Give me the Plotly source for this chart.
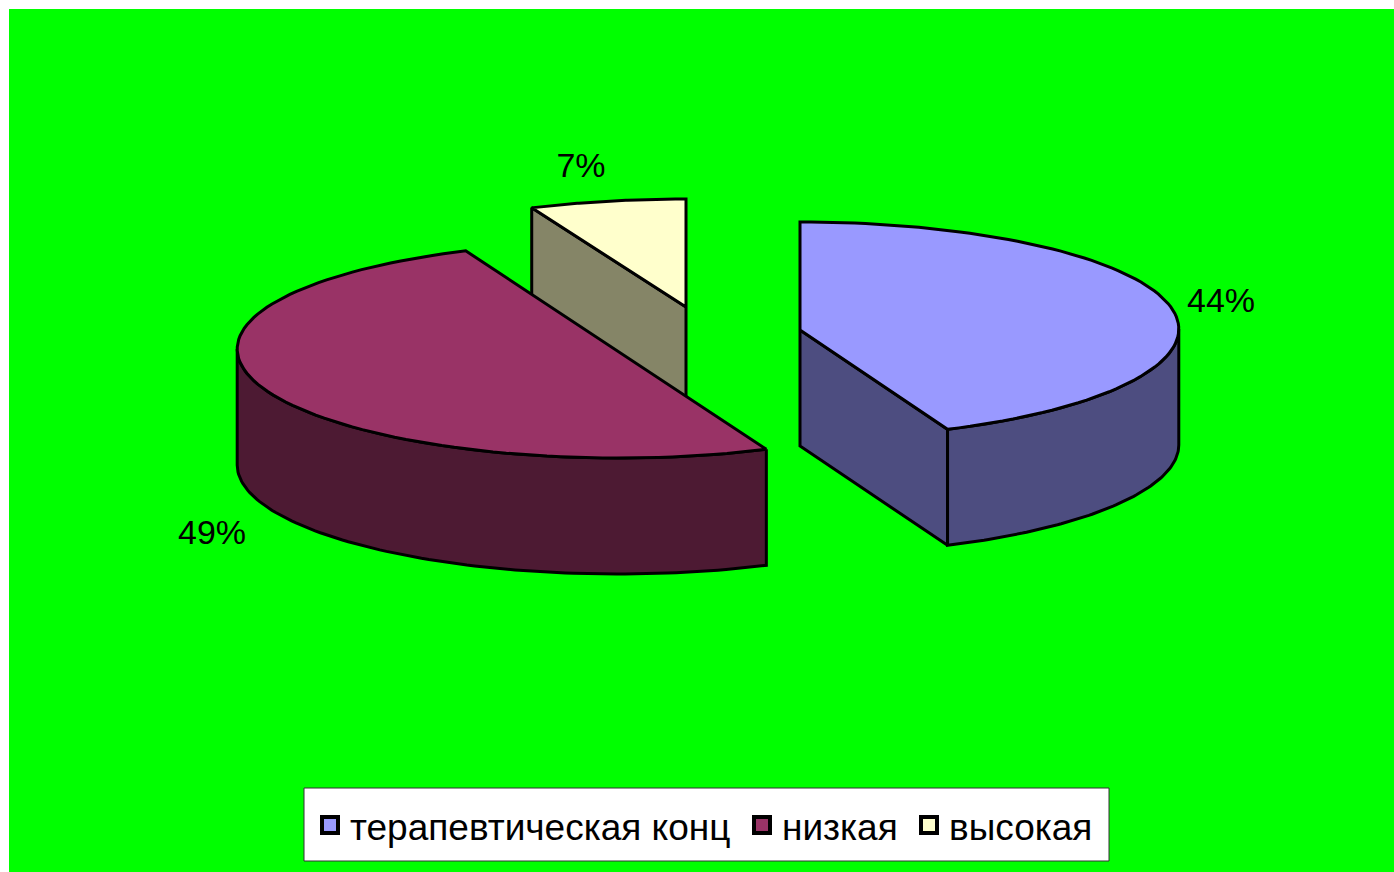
import numpy as np
import plotly.graph_objects as go

categories = ["терапевтическая конц", "низкая", "высокая"]
shares = [44, 49, 7]
top_colors = ["#9999FF", "#993366", "#FFFFCC"]
side_colors = ["#4D4D80", "#4D1A33", "#858567"]

W, H = 1394, 872
FONT = "Liberation Sans, Arial, sans-serif"
INK = "#000000"
DEPTH = 116
PERSPECTIVE = 0.065
SHOULDER = 8
centers = [(800, 330), (618, 350), (686, 307)]
radii = [(378, 108), (380, 108), (385, 108)]
label_pos = [(1221, 303), (212, 535), (581, 168)]
legend_x = [310, 742, 909]

# slice angles (clockwise from 12 o'clock) derived from the values
edges = np.cumsum([0] + shares) / sum(shares) * 360.0
# angle offset at which the rim reaches its widest point
widest = np.degrees(np.arcsin(PERSPECTIVE))


def rim(i, a0, a1, drop=0.0, n=90):
    t = np.radians(np.linspace(a0, a1, n))
    cx, cy = centers[i]
    rx, ry = radii[i]
    # points nearer the viewer spread a little wider; the sides sit slightly back
    x = cx + rx * np.sin(t) * (1 - PERSPECTIVE * np.cos(t))
    y = cy - ry * np.cos(t) - SHOULDER * np.sin(t) ** 2 + drop
    return x, y


def poly(xs, ys, color):
    return go.Scatter(x=np.append(xs, xs[0]), y=np.append(ys, ys[0]), mode="lines",
                      fill="toself", fillcolor=color, line=dict(color=INK, width=3),
                      hoverinfo="skip", showlegend=False)


def top_face(i, apex=True):
    x, y = rim(i, edges[i], edges[i + 1])
    if not apex:  # a slice of nearly half the pie closes along its chord
        return poly(x, y, top_colors[i])
    cx, cy = centers[i]
    return poly(np.r_[cx, x], np.r_[cy, y], top_colors[i])


def outer_wall(i, a0, a1):
    x, y = rim(i, a0, a1)
    xb, yb = rim(i, a0, a1, DEPTH)
    return poly(np.r_[x, xb[::-1]], np.r_[y, yb[::-1]], side_colors[i])


def radial_wall(i, angle):
    cx, cy = centers[i]
    x, y = rim(i, angle, angle, n=1)
    return poly(np.r_[cx, x, x, cx], np.r_[cy, y, y + DEPTH, cy + DEPTH], side_colors[i])


fig = go.Figure()
# high slice (behind)
fig.add_trace(radial_wall(2, edges[2]))
fig.add_trace(top_face(2))
# low slice
fig.add_trace(outer_wall(1, edges[1], 270 - widest))
fig.add_trace(top_face(1, apex=False))
# therapeutic slice
fig.add_trace(radial_wall(0, edges[1]))
fig.add_trace(outer_wall(0, 90 + widest, edges[1]))
fig.add_trace(top_face(0))

# value labels
for i, v in enumerate(shares):
    fig.add_trace(go.Scatter(x=[label_pos[i][0]], y=[label_pos[i][1]], mode="text",
                             text=[f"{v}%"], textposition="middle center",
                             textfont=dict(family=FONT, size=34, color=INK),
                             hoverinfo="skip", showlegend=False))

# legend entries
legend_ids = ["legend", "legend2", "legend3"]
for i, c in enumerate(categories):
    fig.add_trace(go.Scatter(x=[None], y=[None], mode="markers", name=c,
                             legend=legend_ids[i],
                             marker=dict(symbol="square", size=16, color=top_colors[i],
                                         line=dict(color=INK, width=4))))

legend_common = dict(orientation="h", bgcolor="rgba(0,0,0,0)", borderwidth=0,
                     xanchor="left", yanchor="middle", y=0.0538, itemwidth=30,
                     font=dict(family=FONT, size=37, color=INK),
                     itemclick=False, itemdoubleclick=False)

fig.update_layout(
    width=W, height=H, margin=dict(l=9, r=0, t=9, b=0),
    paper_bgcolor="#FFFFFF", plot_bgcolor="#00FF00",
    xaxis=dict(range=[9, W], visible=False, fixedrange=True),
    yaxis=dict(range=[H, 9], visible=False, fixedrange=True),
    legend=dict(x=(legend_x[0] - 9) / (W - 9), **legend_common),
    legend2=dict(x=(legend_x[1] - 9) / (W - 9), **legend_common),
    legend3=dict(x=(legend_x[2] - 9) / (W - 9), **legend_common),
    shapes=[dict(type="rect", xref="x", yref="y", x0=304, x1=1109, y0=788, y1=861,
                 fillcolor="#FFFFFF", line=dict(color="#333333", width=1), layer="above")],
)

fig.write_html("out.html", config=dict(displayModeBar=False),
               post_script="document.body.style.margin='0';document.documentElement.style.overflow='hidden';")
